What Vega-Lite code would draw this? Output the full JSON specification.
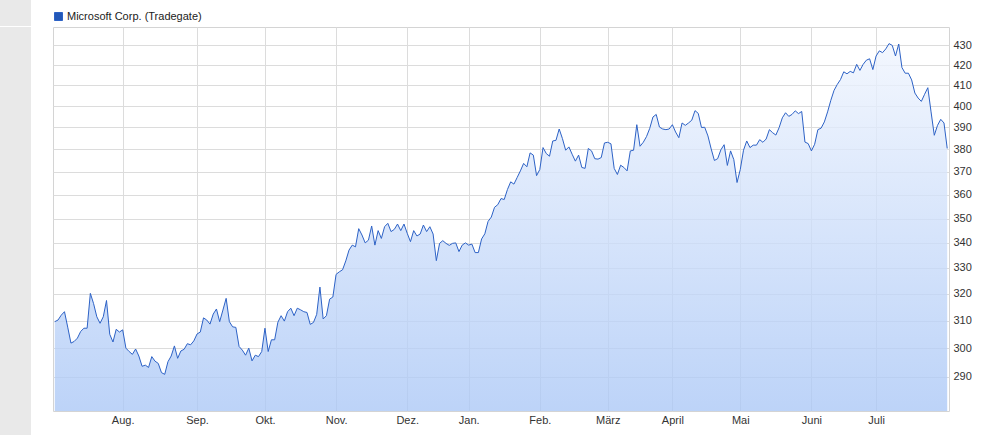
{
"$schema":"https://vega.github.io/schema/vega-lite/v6.json",
"background":"white",
"padding":0,
"columns":2,
"align":"each",
"spacing":{"row":0,"column":21},
"config":{"font":"Liberation Sans","view":{"stroke":null}},
"concat":[
{"width":31,"height":26,"view":{"fill":"#e9e9e9","stroke":null},"data":{"values":[{}]},"mark":{"type":"text"},"encoding":{"text":{"value":""}}},
{"width":896,"height":26,"view":{"fill":null,"stroke":null},"data":{"values":[{}]},"mark":{"type":"text"},"encoding":{"text":{"value":""}}},
{"width":31,"height":409,"view":{"fill":"#e9e9e9","stroke":null},"data":{"values":[{}]},"mark":{"type":"text"},"encoding":{"text":{"value":""}}},
{"width":896,"height":384,
"view":{"stroke":"#d4d4d4","fill":"white"},
"data":{"values":[
{"d":"2023-07-03","v":309.6},{"d":"2023-07-04","v":310.2},{"d":"2023-07-05","v":312.0},{"d":"2023-07-06","v":313.3},{"d":"2023-07-07","v":307.6},{"d":"2023-07-10","v":301.8},{"d":"2023-07-11","v":302.4},{"d":"2023-07-12","v":303.6},{"d":"2023-07-13","v":306.0},{"d":"2023-07-14","v":307.2},{"d":"2023-07-17","v":307.2},{"d":"2023-07-18","v":320.2},{"d":"2023-07-19","v":316.3},{"d":"2023-07-20","v":311.4},{"d":"2023-07-21","v":309.0},{"d":"2023-07-24","v":311.4},{"d":"2023-07-25","v":317.5},{"d":"2023-07-26","v":305.0},{"d":"2023-07-27","v":302.2},{"d":"2023-07-28","v":306.8},{"d":"2023-07-31","v":305.8},
{"d":"2023-08-01","v":306.6},{"d":"2023-08-02","v":300.0},{"d":"2023-08-03","v":298.8},{"d":"2023-08-04","v":297.8},{"d":"2023-08-07","v":299.7},{"d":"2023-08-08","v":297.2},{"d":"2023-08-09","v":293.6},{"d":"2023-08-10","v":294.0},{"d":"2023-08-11","v":293.2},{"d":"2023-08-14","v":297.0},{"d":"2023-08-15","v":295.4},{"d":"2023-08-16","v":294.6},{"d":"2023-08-17","v":291.4},{"d":"2023-08-18","v":290.8},{"d":"2023-08-21","v":295.2},{"d":"2023-08-22","v":297.2},{"d":"2023-08-23","v":300.8},{"d":"2023-08-24","v":296.4},{"d":"2023-08-25","v":299.0},{"d":"2023-08-28","v":299.6},{"d":"2023-08-29","v":301.6},{"d":"2023-08-30","v":301.2},{"d":"2023-08-31","v":302.6},
{"d":"2023-09-01","v":305.1},{"d":"2023-09-04","v":305.8},{"d":"2023-09-05","v":311.0},{"d":"2023-09-06","v":310.2},{"d":"2023-09-07","v":308.7},{"d":"2023-09-08","v":312.4},{"d":"2023-09-11","v":314.3},{"d":"2023-09-12","v":309.6},{"d":"2023-09-13","v":313.9},{"d":"2023-09-14","v":318.3},{"d":"2023-09-15","v":309.6},{"d":"2023-09-18","v":307.7},{"d":"2023-09-19","v":307.5},{"d":"2023-09-20","v":300.6},{"d":"2023-09-21","v":299.3},{"d":"2023-09-22","v":297.5},{"d":"2023-09-25","v":300.0},{"d":"2023-09-26","v":295.5},{"d":"2023-09-27","v":297.5},{"d":"2023-09-28","v":297.0},{"d":"2023-09-29","v":298.8},
{"d":"2023-10-02","v":307.2},{"d":"2023-10-03","v":298.8},{"d":"2023-10-04","v":303.0},{"d":"2023-10-05","v":303.0},{"d":"2023-10-06","v":309.4},{"d":"2023-10-09","v":311.8},{"d":"2023-10-10","v":309.8},{"d":"2023-10-11","v":313.3},{"d":"2023-10-12","v":314.6},{"d":"2023-10-13","v":311.8},{"d":"2023-10-16","v":314.6},{"d":"2023-10-17","v":314.0},{"d":"2023-10-18","v":313.3},{"d":"2023-10-19","v":313.0},{"d":"2023-10-20","v":308.6},{"d":"2023-10-23","v":309.3},{"d":"2023-10-24","v":312.3},{"d":"2023-10-25","v":322.6},{"d":"2023-10-26","v":310.6},{"d":"2023-10-27","v":311.8},{"d":"2023-10-30","v":318.0},{"d":"2023-10-31","v":318.8},
{"d":"2023-11-01","v":327.5},{"d":"2023-11-02","v":328.5},{"d":"2023-11-03","v":329.3},{"d":"2023-11-06","v":332.8},{"d":"2023-11-07","v":337.1},{"d":"2023-11-08","v":339.1},{"d":"2023-11-09","v":338.4},{"d":"2023-11-10","v":345.8},{"d":"2023-11-13","v":343.2},{"d":"2023-11-14","v":340.0},{"d":"2023-11-15","v":341.1},{"d":"2023-11-16","v":346.9},{"d":"2023-11-17","v":339.1},{"d":"2023-11-20","v":345.0},{"d":"2023-11-21","v":341.8},{"d":"2023-11-22","v":346.6},{"d":"2023-11-23","v":348.0},{"d":"2023-11-24","v":344.6},{"d":"2023-11-27","v":345.5},{"d":"2023-11-28","v":347.7},{"d":"2023-11-29","v":345.0},{"d":"2023-11-30","v":347.7},
{"d":"2023-12-01","v":343.9},{"d":"2023-12-04","v":340.5},{"d":"2023-12-05","v":345.0},{"d":"2023-12-06","v":342.8},{"d":"2023-12-07","v":343.6},{"d":"2023-12-08","v":347.3},{"d":"2023-12-11","v":344.6},{"d":"2023-12-12","v":346.6},{"d":"2023-12-13","v":343.6},{"d":"2023-12-14","v":332.9},{"d":"2023-12-15","v":339.8},{"d":"2023-12-18","v":340.9},{"d":"2023-12-19","v":339.8},{"d":"2023-12-20","v":339.0},{"d":"2023-12-21","v":339.8},{"d":"2023-12-22","v":340.0},{"d":"2023-12-27","v":336.5},{"d":"2023-12-28","v":339.1},{"d":"2023-12-29","v":340.0},
{"d":"2024-01-02","v":339.1},{"d":"2024-01-03","v":339.5},{"d":"2024-01-04","v":336.1},{"d":"2024-01-05","v":336.1},{"d":"2024-01-08","v":341.6},{"d":"2024-01-09","v":343.7},{"d":"2024-01-10","v":348.8},{"d":"2024-01-11","v":350.6},{"d":"2024-01-12","v":354.7},{"d":"2024-01-15","v":355.8},{"d":"2024-01-16","v":358.4},{"d":"2024-01-17","v":358.0},{"d":"2024-01-18","v":362.3},{"d":"2024-01-19","v":365.6},{"d":"2024-01-22","v":364.6},{"d":"2024-01-23","v":367.5},{"d":"2024-01-24","v":370.4},{"d":"2024-01-25","v":373.7},{"d":"2024-01-26","v":372.2},{"d":"2024-01-29","v":378.4},{"d":"2024-01-30","v":377.4},{"d":"2024-01-31","v":368.3},
{"d":"2024-02-01","v":371.0},{"d":"2024-02-02","v":380.8},{"d":"2024-02-05","v":378.1},{"d":"2024-02-06","v":376.9},{"d":"2024-02-07","v":383.8},{"d":"2024-02-08","v":384.1},{"d":"2024-02-09","v":389.3},{"d":"2024-02-12","v":384.9},{"d":"2024-02-13","v":379.6},{"d":"2024-02-14","v":381.1},{"d":"2024-02-15","v":377.8},{"d":"2024-02-16","v":374.7},{"d":"2024-02-19","v":377.4},{"d":"2024-02-20","v":371.9},{"d":"2024-02-21","v":371.5},{"d":"2024-02-22","v":380.4},{"d":"2024-02-23","v":379.3},{"d":"2024-02-26","v":375.8},{"d":"2024-02-27","v":375.6},{"d":"2024-02-28","v":376.3},{"d":"2024-02-29","v":382.9},
{"d":"2024-03-01","v":383.2},{"d":"2024-03-04","v":382.5},{"d":"2024-03-05","v":371.5},{"d":"2024-03-06","v":368.8},{"d":"2024-03-07","v":372.9},{"d":"2024-03-08","v":371.9},{"d":"2024-03-11","v":370.4},{"d":"2024-03-12","v":379.3},{"d":"2024-03-13","v":379.6},{"d":"2024-03-14","v":391.3},{"d":"2024-03-15","v":381.4},{"d":"2024-03-18","v":383.2},{"d":"2024-03-19","v":385.8},{"d":"2024-03-20","v":389.6},{"d":"2024-03-21","v":394.9},{"d":"2024-03-22","v":396.1},{"d":"2024-03-25","v":390.2},{"d":"2024-03-26","v":389.3},{"d":"2024-03-27","v":389.0},{"d":"2024-03-28","v":389.3},
{"d":"2024-04-02","v":391.3},{"d":"2024-04-03","v":387.9},{"d":"2024-04-04","v":385.3},{"d":"2024-04-05","v":392.1},{"d":"2024-04-08","v":391.0},{"d":"2024-04-09","v":392.1},{"d":"2024-04-10","v":393.4},{"d":"2024-04-11","v":397.9},{"d":"2024-04-12","v":396.6},{"d":"2024-04-15","v":390.0},{"d":"2024-04-16","v":390.1},{"d":"2024-04-17","v":386.1},{"d":"2024-04-18","v":380.2},{"d":"2024-04-19","v":375.0},{"d":"2024-04-22","v":375.8},{"d":"2024-04-23","v":379.8},{"d":"2024-04-24","v":382.1},{"d":"2024-04-25","v":372.8},{"d":"2024-04-26","v":379.3},{"d":"2024-04-29","v":375.4},{"d":"2024-04-30","v":365.3},
{"d":"2024-05-02","v":371.0},{"d":"2024-05-03","v":379.6},{"d":"2024-05-06","v":383.8},{"d":"2024-05-07","v":380.8},{"d":"2024-05-08","v":381.9},{"d":"2024-05-09","v":381.9},{"d":"2024-05-10","v":384.4},{"d":"2024-05-13","v":383.2},{"d":"2024-05-14","v":384.7},{"d":"2024-05-15","v":389.0},{"d":"2024-05-16","v":387.6},{"d":"2024-05-17","v":386.5},{"d":"2024-05-20","v":389.9},{"d":"2024-05-21","v":394.5},{"d":"2024-05-22","v":396.9},{"d":"2024-05-23","v":395.2},{"d":"2024-05-24","v":396.1},{"d":"2024-05-27","v":397.8},{"d":"2024-05-28","v":396.5},{"d":"2024-05-29","v":397.5},{"d":"2024-05-30","v":383.3},{"d":"2024-05-31","v":382.6},
{"d":"2024-06-03","v":379.3},{"d":"2024-06-04","v":382.3},{"d":"2024-06-05","v":389.0},{"d":"2024-06-06","v":389.7},{"d":"2024-06-07","v":392.6},{"d":"2024-06-10","v":397.3},{"d":"2024-06-11","v":402.8},{"d":"2024-06-12","v":407.6},{"d":"2024-06-13","v":410.5},{"d":"2024-06-14","v":412.9},{"d":"2024-06-17","v":416.7},{"d":"2024-06-18","v":415.7},{"d":"2024-06-19","v":416.9},{"d":"2024-06-20","v":416.2},{"d":"2024-06-21","v":420.4},{"d":"2024-06-24","v":417.4},{"d":"2024-06-25","v":420.4},{"d":"2024-06-26","v":422.5},{"d":"2024-06-27","v":423.2},{"d":"2024-06-28","v":417.8},
{"d":"2024-07-01","v":424.6},{"d":"2024-07-02","v":427.2},{"d":"2024-07-03","v":426.3},{"d":"2024-07-04","v":428.2},{"d":"2024-07-05","v":430.9},{"d":"2024-07-08","v":430.0},{"d":"2024-07-09","v":424.6},{"d":"2024-07-10","v":430.7},{"d":"2024-07-11","v":418.8},{"d":"2024-07-12","v":416.0},{"d":"2024-07-15","v":416.0},{"d":"2024-07-16","v":412.7},{"d":"2024-07-17","v":406.3},{"d":"2024-07-18","v":403.9},{"d":"2024-07-19","v":402.3},{"d":"2024-07-22","v":405.7},{"d":"2024-07-23","v":408.9},{"d":"2024-07-24","v":397.3},{"d":"2024-07-25","v":386.4},{"d":"2024-07-26","v":391.0},{"d":"2024-07-29","v":393.8},{"d":"2024-07-30","v":392.1},{"d":"2024-07-31","v":380.4}
]},
"encoding":{
"x":{"field":"d","type":"ordinal","sort":"ascending","scale":{"type":"point","padding":0.55},
"axis":{"values":["2023-08-01","2023-09-01","2023-10-02","2023-11-01","2023-12-01","2024-01-02","2024-02-01","2024-03-01","2024-04-02","2024-05-02","2024-06-03","2024-07-01"],
"labelExpr":"['Jan.','Feb.','März','April','Mai','Juni','Juli','Aug.','Sep.','Okt.','Nov.','Dez.'][parseInt(substring(datum.value,5,7))-1]",
"title":null,"ticks":false,"domain":false,"grid":true,"gridColor":"#dcdcdc","gridWidth":1,"labelAngle":0,"labelPadding":3,"labelFontSize":11,"labelColor":"#333333","labelFont":"Liberation Sans"}},
"y":{"field":"v","type":"quantitative","stack":null,"scale":{"type":"log","domain":[278.4,439.5],"nice":false},
"axis":{"orient":"right","values":[290,300,310,320,330,340,350,360,370,380,390,400,410,420,430],"format":"d","title":null,"ticks":false,"domain":false,"grid":true,"gridColor":"#dcdcdc","gridWidth":1,"labelPadding":4,"labelFontSize":11,"labelColor":"#333333","labelFont":"Liberation Sans"}}
},
"layer":[
{"mark":{"type":"area","color":{"gradient":"linear","x1":0,"y1":0,"x2":0,"y2":1,"stops":[{"offset":0,"color":"rgba(240,245,254,0.8)"},{"offset":1,"color":"rgba(170,199,246,0.78)"}]}}},
{"mark":{"type":"line","strokeWidth":1},
"encoding":{"color":{"datum":"Microsoft Corp. (Tradegate)","scale":{"range":["#2d62c6"]},
"legend":{"title":null,"orient":"none","legendX":53,"legendY":11,"padding":0,"labelFontSize":11,"labelColor":"#222222","labelFont":"Liberation Sans","labelOffset":3,
"encode":{"symbols":{"update":{"shape":{"value":"square"},"size":{"value":64},"fill":{"value":"#2358b8"},"stroke":{"value":"#1d3c7a"},"strokeWidth":{"value":1}}}}}}}}
]}
]
}
